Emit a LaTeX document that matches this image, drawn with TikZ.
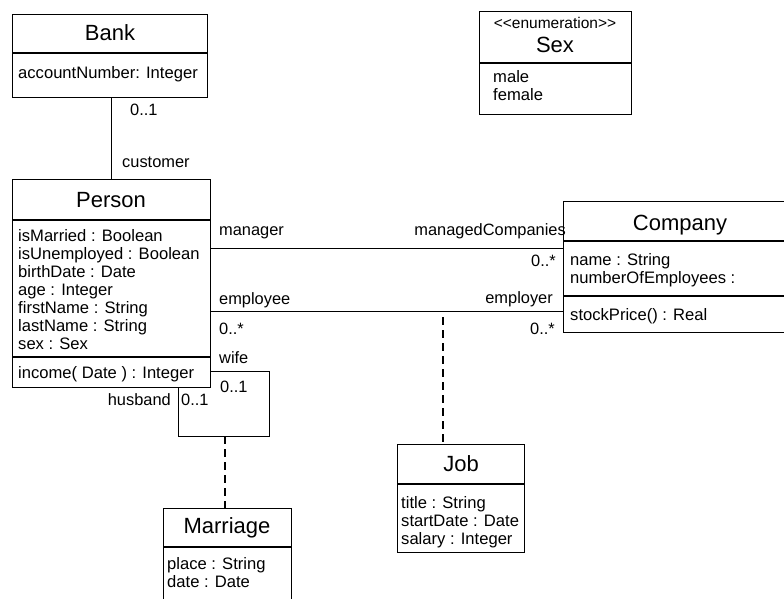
\documentclass[tikz,border=0pt]{standalone}
\usepackage{fontspec}
\setmainfont{Liberation Sans}
\begin{document}
\begin{tikzpicture}[x=1pt,y=-1pt,
  classbox/.style={draw, line width=1.4pt, rectangle, inner sep=0pt, anchor=north west},
  compart/.style={line width=1.4pt},
  cname/.style={font=\fontsize{22}{24}\selectfont, inner sep=0pt, anchor=base},
  stereo/.style={font=\fontsize{15.5}{17}\selectfont, inner sep=0pt, anchor=base},
  attr/.style={font=\fontsize{16.6}{18}\selectfont, inner sep=0pt, anchor=base west},
  rolel/.style={font=\fontsize{16.4}{18}\selectfont, inner sep=0pt, anchor=base west},
  roler/.style={font=\fontsize{16.4}{18}\selectfont, inner sep=0pt, anchor=base east},
  assoc/.style={line width=1pt},
  aclink/.style={line width=2pt, dash pattern=on 8pt off 5pt}]
\useasboundingbox (0,0) rectangle (784,599);
\clip (0,0) rectangle (784,599);

% ---- class boxes ----
\node[classbox, minimum width=195pt, minimum height=83pt]  (bank)     at (12,14)  {};
\node[classbox, minimum width=152pt, minimum height=103pt] (sex)      at (479,11) {};
\node[classbox, minimum width=198pt, minimum height=208pt] (person)   at (12,179) {};
\node[classbox, minimum width=234pt, minimum height=131pt] (company)  at (563,201) {};
\node[classbox, minimum width=127pt, minimum height=108pt] (job)      at (397,444) {};
\node[classbox, minimum width=128pt, minimum height=110pt] (marriage) at (163,508) {};

% ---- compartment separators ----
\draw[compart] (bank.west |- 0,53) -- (bank.east |- 0,53);
\draw[compart] (sex.west |- 0,63) -- (sex.east |- 0,63);
\draw[compart] (person.west |- 0,220) -- (person.east |- 0,220);
\draw[compart] (person.west |- 0,357) -- (person.east |- 0,357);
\draw[compart] (company.west |- 0,241) -- (company.east |- 0,241);
\draw[compart] (company.west |- 0,296) -- (company.east |- 0,296);
\draw[compart] (job.west |- 0,484) -- (job.east |- 0,484);
\draw[compart] (marriage.west |- 0,547) -- (marriage.east |- 0,547);

% ---- Bank ----
\node[cname] (bankT) at (110,41) {Bank};
\node[attr] (bankA1) at (18,79) {accountNumber: Integer};

% ---- Sex ----
\node[stereo] (sexS) at (555,29) {{<}{<}enumeration{>}{>}};
\node[cname] (sexT) at (555,53) {Sex};
\node[attr] (sexA1) at (493,83) {male};
\node[attr] (sexA2) at (493,101) {female};

% ---- Person ----
\node[cname] (personT) at (111,207) {Person};
\node[attr] (personA1) at (18,241) {isMarried : Boolean};
\node[attr] (personA2) at (18,259) {isUnemployed : Boolean};
\node[attr] (personA3) at (18,277) {birthDate : Date};
\node[attr] (personA4) at (18,295) {age : Integer};
\node[attr] (personA5) at (18,313) {firstName : String};
\node[attr] (personA6) at (18,331) {lastName : String};
\node[attr] (personA7) at (18,349) {sex : Sex};
\node[attr] (personO1) at (18,378) {income( Date ) : Integer};

% ---- Company ----
\node[cname] (companyT) at (680,230) {Company};
\node[attr] (companyA1) at (570,265) {name : String};
\node[attr] (companyA2) at (570,283) {numberOfEmployees :};
\node[attr] (companyO1) at (570,320) {stockPrice() : Real};

% ---- Job ----
\node[cname] (jobT) at (461,471) {Job};
\node[attr] (jobA1) at (401,508) {title : String};
\node[attr] (jobA2) at (401,526) {startDate : Date};
\node[attr] (jobA3) at (401,544) {salary : Integer};

% ---- Marriage ----
\node[cname] (marriageT) at (227,533) {Marriage};
\node[attr] (marriageA1) at (167,569) {place : String};
\node[attr] (marriageA2) at (167,587) {date : Date};

% ---- associations ----
% Bank -- Person
\draw[assoc] (person.north |- bank.south) -- (person.north);
\node[rolel] (bankM) at (130,116) {0..1};
\node[rolel] (custR) at (122,167) {customer};

% Person -- Company (management)
\draw[assoc] (person.east |- 0,248) -- (company.west |- 0,248);
\node[rolel] (mgrR) at (219,235) {manager};
\node[roler] (mcR) at (566,235) {managedCompanies};
\node[roler] (mcM) at (556,266) {0..*};

% Person -- Company (employment)
\draw[assoc] (person.east |- 0,311) -- (company.west |- 0,311);
\node[rolel] (empR) at (219,304) {employee};
\node[rolel] (empM) at (219,334) {0..*};
\node[roler] (emprR) at (553,303) {employer};
\node[roler] (emprM) at (555,334) {0..*};

% Person -- Person (marriage)
\coordinate (loopR) at (269,436);
\coordinate (loopL) at (178,436);
\draw[assoc] (person.east |- 0,371) -| (loopR) -- (loopL) -- (loopL |- person.south);
\node[rolel] (wifeR) at (219,363) {wife};
\node[rolel] (wifeM) at (220,392) {0..1};
\node[roler] (husbR) at (171,405) {husband};
\node[rolel] (husbM) at (181,405) {0..1};

% association classes
\coordinate (mlink) at (225,436);
\draw[aclink] (mlink) -- (mlink |- marriage.north);
\coordinate (jlink) at (443,317);
\draw[aclink] (jlink) -- (jlink |- job.north);
\end{tikzpicture}
\end{document}
